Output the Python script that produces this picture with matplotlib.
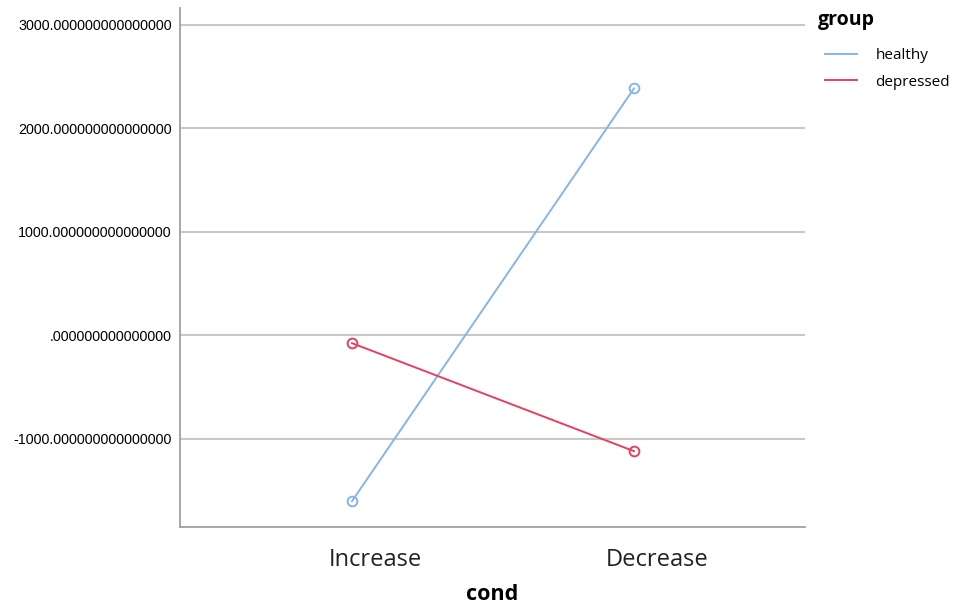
import matplotlib
matplotlib.use("Agg")
import matplotlib.pyplot as plt
import matplotlib.transforms as mtransforms
from matplotlib.ticker import FixedLocator, FuncFormatter

conds = ["Increase", "Decrease"]
groups = ["healthy", "depressed"]
healthy = [-1604, 2386]
depressed = [-77, -1121]
colors = {"healthy": "#86b4ee", "depressed": "#e6405f"}
yticks = [-1000, 0, 1000, 2000, 3000]


def fmt(v, pos):
    s = "%.15f" % v
    if s.startswith("0."):
        s = s[1:]
    return s


fig = plt.figure(figsize=(9.58, 6.1), dpi=100)
ax = fig.add_axes([0.188, 0.136, 0.652, 0.851])

x = list(range(len(conds)))
for name, vals in zip(groups, [healthy, depressed]):
    ax.plot(x, vals, color=colors[name], lw=1.4, marker="o", markersize=7,
            markerfacecolor="none", markeredgewidth=1.4, label=name)

ax.set_xlim(-0.61, 1.606)
ax.set_ylim(-1855, 3165)
ax.yaxis.set_major_locator(FixedLocator(yticks))
ax.yaxis.set_major_formatter(FuncFormatter(fmt))
ax.grid(axis="y", color="#c8c8c8", lw=1.5)
ax.set_axisbelow(True)
for s in ["top", "right"]:
    ax.spines[s].set_visible(False)
for s in ["left", "bottom"]:
    ax.spines[s].set_color("#a0a0a0")
    ax.spines[s].set_linewidth(1.3)
ax.tick_params(axis="y", length=0, labelsize=10.3, pad=6)
ax.tick_params(axis="x", length=0, pad=15)
for lab in ax.get_yticklabels():
    lab.set_fontfamily("Liberation Sans")
ax.set_xticks(x)
ax.set_xticklabels(conds, fontsize=17, fontfamily="Open Sans", color="#222222")
# category labels sit a little right of the points, as in the original
shift = mtransforms.ScaledTranslation(23 / 100, 0, fig.dpi_scale_trans)
for lab in ax.get_xticklabels():
    lab.set_transform(lab.get_transform() + shift)
ax.set_xlabel("cond", fontsize=15.5, fontweight="bold", fontfamily="Open Sans",
              labelpad=9)

leg = fig.legend(*ax.get_legend_handles_labels(), loc="upper left",
                 bbox_to_anchor=(0.861, 0.921), frameon=False,
                 prop={"family": "Open Sans", "size": 11},
                 handlelength=2.1, handletextpad=1.2, labelspacing=0.76,
                 borderpad=0, borderaxespad=0)
for h in leg.get_lines():
    h.set_marker("")
fig.text(0.854, 0.967, "group", fontsize=14, fontweight="bold",
         fontfamily="Open Sans", va="center", ha="left")

fig.savefig("out.png", dpi=100)
